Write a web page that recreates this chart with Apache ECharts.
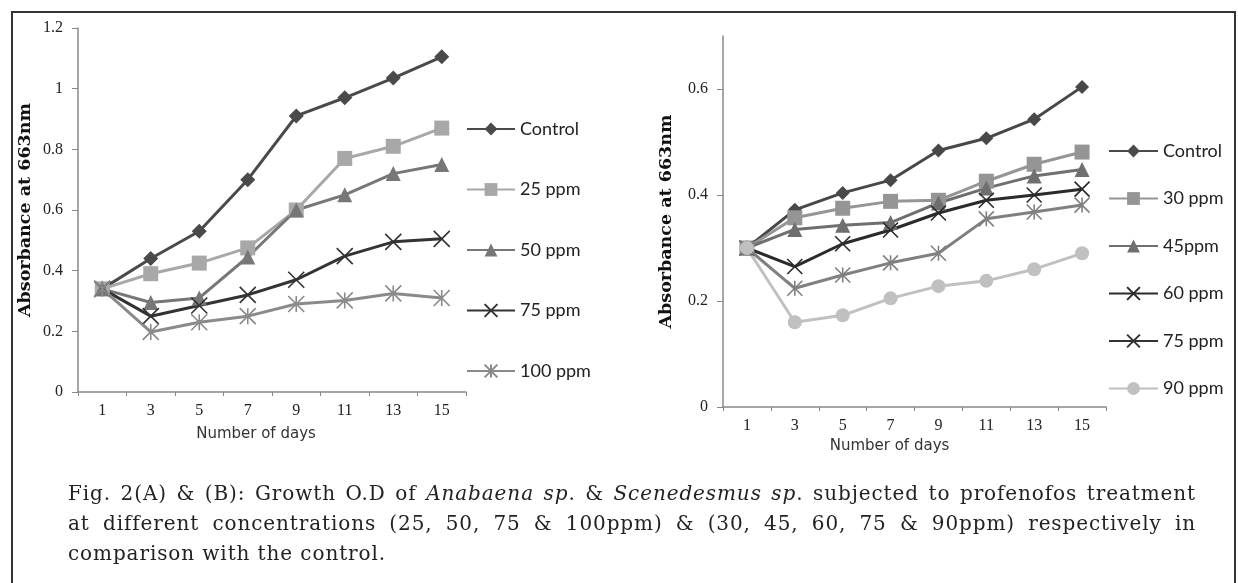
<!DOCTYPE html>
<html>
<head>
<meta charset="utf-8">
<script src="https://cdn.jsdelivr.net/npm/echarts@6/dist/echarts.min.js"></script>
<style>
  html, body { margin: 0; padding: 0; background: #fff; }
  #frame {
    position: absolute; left: 11px; top: 11px; width: 1221px; height: 580px;
    border: 2px solid #333; border-bottom: none;
  }
  #chart { position: absolute; left: 0; top: 0; width: 1238px; height: 583px; }
  #caption {
    position: absolute; left: 68px; top: 478px; width: 1128px;
    font-family: "DejaVu Serif", serif; font-size: 20px; line-height: 30px;
    color: #222; letter-spacing: 0.9px;
  }
  #caption div { white-space: nowrap; }
  #caption .j { text-align: justify; text-align-last: justify; }
</style>
</head>
<body>
<div id="frame"></div>
<div id="chart"></div>
<div id="caption">
  <div class="j">Fig. 2(A) &amp; (B): Growth O.D of <i>Anabaena sp</i>. &amp; <i>Scenedesmus sp</i>. subjected to profenofos treatment</div>
  <div class="j">at different concentrations (25, 50, 75 &amp; 100ppm) &amp; (30, 45, 60, 75 &amp; 90ppm) respectively in</div>
  <div>comparison with the control.</div>
</div>
<script>
  // 天数 (x 轴)
  const days = ['1', '3', '5', '7', '9', '11', '13', '15'];

  // (A) Anabaena sp.
  const namesA = ['Control', '25 ppm', '50 ppm', '75 ppm', '100 ppm'];
  const controlA = [0.34, 0.44, 0.53, 0.70, 0.91, 0.97, 1.035, 1.105];
  const ppm25A = [0.34, 0.39, 0.425, 0.475, 0.60, 0.77, 0.81, 0.87];
  const ppm50A = [0.34, 0.295, 0.31, 0.445, 0.60, 0.65, 0.72, 0.75];
  const ppm75A = [0.34, 0.25, 0.285, 0.32, 0.37, 0.448, 0.495, 0.505];
  const ppm100A = [0.34, 0.198, 0.23, 0.25, 0.29, 0.302, 0.325, 0.31];
  const yTicksA = [0, 0.2, 0.4, 0.6, 0.8, 1, 1.2];

  // (B) Scenedesmus sp.
  const namesB = ['Control', '30 ppm', '45ppm', '60 ppm', '75 ppm', '90 ppm'];
  const controlB = [0.30, 0.372, 0.404, 0.428, 0.484, 0.507, 0.543, 0.604];
  const ppm30B = [0.30, 0.357, 0.375, 0.388, 0.39, 0.426, 0.458, 0.481];
  const ppm45B = [0.30, 0.335, 0.343, 0.348, 0.385, 0.413, 0.436, 0.448];
  const ppm60B = [0.30, 0.265, 0.308, 0.334, 0.366, 0.39, 0.40, 0.411];
  const ppm75B = [0.30, 0.224, 0.249, 0.272, 0.29, 0.355, 0.368, 0.381];
  const ppm90B = [0.30, 0.16, 0.173, 0.205, 0.228, 0.238, 0.26, 0.29];
  const yTicksB = [0, 0.2, 0.4, 0.6];

  const X_PATH = 'path://M0,0L10,10M10,0L0,10';
  const STAR_PATH = 'path://M0,0L10,10M10,0L0,10M5,0L5,10';

  const serifTick = { fontFamily: 'Liberation Serif', fontSize: 16, color: '#222' };

  function mkSeries(name, data, color, symbol, size, idx) {
    const stroke = symbol.indexOf('path://') === 0;
    return {
      name: name,
      type: 'line',
      xAxisIndex: idx,
      yAxisIndex: idx,
      data: data,
      symbol: symbol,
      symbolSize: size,
      lineStyle: { width: 3, color: color },
      itemStyle: {
        color: stroke ? 'rgba(0,0,0,0)' : color,
        borderColor: color,
        borderWidth: stroke ? 1.6 : 0
      },
      emphasis: { disabled: true },
      animation: false
    };
  }

  function xAxisCfg(idx, nameGap, padRight) {
    return {
      type: 'category',
      gridIndex: idx,
      data: days,
      boundaryGap: true,
      axisLine: { lineStyle: { color: '#888', width: 1.5 } },
      axisTick: { show: true, length: 4, lineStyle: { color: '#888' } },
      axisLabel: Object.assign({ margin: 11 }, serifTick),
      name: 'Number of days',
      nameLocation: 'middle',
      nameGap: nameGap,
      nameTextStyle: {
        fontFamily: 'DejaVu Sans', fontSize: 15, color: '#333',
        padding: [0, padRight, 0, 0]
      }
    };
  }

  function yAxisCfg(idx, max, ticks, nameGap) {
    return {
      type: 'value',
      gridIndex: idx,
      min: 0,
      max: max,
      splitLine: { show: false },
      axisLine: { show: true, lineStyle: { color: '#888', width: 1.5 } },
      axisTick: { show: true, length: 6, lineStyle: { color: '#888' }, customValues: ticks },
      axisLabel: Object.assign({ margin: 15, customValues: ticks }, serifTick),
      name: 'Absorbance at 663nm',
      nameLocation: 'middle',
      nameRotate: 90,
      nameGap: nameGap,
      nameTextStyle: {
        fontFamily: 'DejaVu Serif', fontWeight: 'bold', fontSize: 17.5, color: '#111'
      }
    };
  }

  function legendCfg(names, left, top, gap, w) {
    return {
      orient: 'vertical',
      left: left,
      top: top,
      padding: 0,
      itemWidth: w,
      itemHeight: 16,
      itemGap: gap,
      data: names,
      selectedMode: false,
      textStyle: { fontFamily: 'Lato', fontSize: 18, color: '#222', lineHeight: 16 }
    };
  }

  const chart = echarts.init(document.getElementById('chart'));

  chart.setOption({
    backgroundColor: 'transparent',
    animation: false,
    grid: [
      { left: 78, top: 28, width: 388, height: 364 },
      { left: 723, top: 36, width: 383, height: 371 }
    ],
    xAxis: [xAxisCfg(0, 35, 32), xAxisCfg(1, 32, 50)],
    yAxis: [yAxisCfg(0, 1.2, yTicksA, 44), yAxisCfg(1, 0.7, yTicksB, 48)],
    legend: [
      legendCfg(namesA, 466, 120, 42.5, 48),
      legendCfg(namesB, 1108, 142, 29.5, 49)
    ],
    series: [
      mkSeries(namesA[0], controlA, '#4a4a4a', 'diamond', 15, 0),
      mkSeries(namesA[1], ppm25A, '#a8a8a8', 'rect', 15, 0),
      mkSeries(namesA[2], ppm50A, '#777777', 'triangle', 15, 0),
      mkSeries(namesA[3], ppm75A, '#333333', X_PATH, 16, 0),
      mkSeries(namesA[4], ppm100A, '#8a8a8a', STAR_PATH, 16, 0),

      mkSeries(namesB[0], controlB, '#484848', 'diamond', 14, 1),
      mkSeries(namesB[1], ppm30B, '#959595', 'rect', 15, 1),
      mkSeries(namesB[2], ppm45B, '#6f6f6f', 'triangle', 15, 1),
      mkSeries(namesB[3], ppm60B, '#2b2b2b', X_PATH, 15, 1),
      mkSeries(namesB[4], ppm75B, '#808080', STAR_PATH, 15, 1),
      mkSeries(namesB[5], ppm90B, '#c0c0c0', 'circle', 14, 1)
    ]
  });
</script>
</body>
</html>
